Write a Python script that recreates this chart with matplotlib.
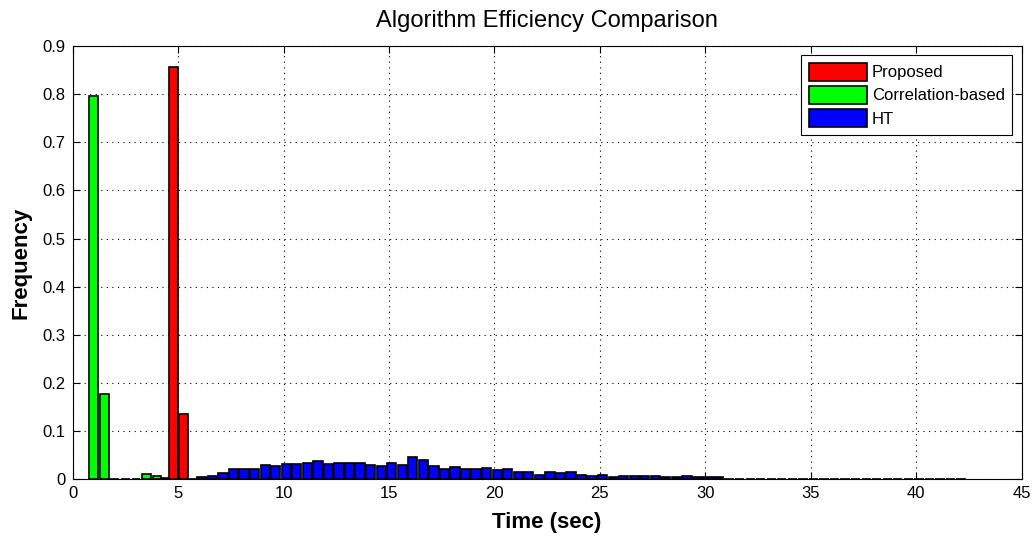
import numpy as np
import matplotlib
matplotlib.use("Agg")
import matplotlib.pyplot as plt

plt.rcParams['font.family'] = ['Liberation Sans', 'DejaVu Sans']

# --- data
prop_x = [4.33, 4.80, 5.27, 5.74]
prop_y = [0.003, 0.856, 0.136, 0.0015]

corr_x = [1.0, 1.5, 2.0, 2.5, 3.0, 3.5, 4.0]
corr_y = [0.797, 0.178, 0.0015, 0.0, 0.0015, 0.011, 0.0077]

# HT histogram, bin centres 6.13 ... 42.13, step 0.5
ht_x = np.arange(6.13, 42.2, 0.5)
ht_y = [0.004, 0.007, 0.013, 0.021, 0.021, 0.021, 0.029, 0.027, 0.032, 0.032,
        0.035, 0.039, 0.032, 0.035, 0.035, 0.033, 0.030, 0.028, 0.033, 0.030,
        0.047, 0.041, 0.027, 0.021, 0.025, 0.021, 0.021, 0.024, 0.019, 0.021,
        0.016, 0.016, 0.010, 0.016, 0.013, 0.016, 0.010, 0.007, 0.010, 0.005,
        0.006, 0.006, 0.006, 0.007, 0.004, 0.004, 0.008, 0.005, 0.005, 0.005,
        0.0015, 0.0015, 0.0015, 0.0015, 0.0015, 0.0015, 0.0015, 0.0015,
        0.0,
        0.0015, 0.0015, 0.0015, 0.0015, 0.0015,
        0.0, 0.0,
        0.0015, 0.0015,
        0.0,
        0.0015,
        0.0, 0.0,
        0.0015]

labels = ["Proposed", "Correlation-based", "HT"]

fig = plt.figure(figsize=(10.34, 5.38), dpi=100)
ax = fig.add_axes([0.0703, 0.109, 0.9177, 0.8055])

ax.bar(prop_x, prop_y, width=0.42, color="#ff0000", edgecolor="black", linewidth=1.2, label=labels[0], zorder=3)
ax.bar(corr_x, corr_y, width=0.42, color="#00ff00", edgecolor="black", linewidth=1.2, label=labels[1], zorder=3)
ax.bar(ht_x, ht_y, width=0.44, color="#0000ff", edgecolor="black", linewidth=1.2, label=labels[2], zorder=3)

ax.set_xlim(0, 45)
ax.set_ylim(0, 0.9)
ax.set_xticks(np.arange(0, 46, 5))
ax.set_yticks(np.arange(0, 0.91, 0.1))
ax.set_yticklabels(["0", "0.1", "0.2", "0.3", "0.4", "0.5", "0.6", "0.7", "0.8", "0.9"])
ax.tick_params(direction="in", top=True, right=True, length=5, labelsize=12, colors="black", pad=5)
ax.grid(True, linestyle=(0, (1, 4)), color="black", linewidth=0.8, zorder=0)
for s in ax.spines.values():
    s.set_color("black")
    s.set_linewidth(0.8)

ax.set_title("Algorithm Efficiency Comparison", fontsize=17, pad=14)
ax.set_xlabel("Time (sec)", fontsize=16, fontweight="bold", labelpad=8)
ax.set_ylabel("Frequency", fontsize=16, fontweight="bold", labelpad=8)

leg = ax.legend(loc="upper right", fontsize=12, handlelength=3.5, handleheight=1.3,
                fancybox=False, framealpha=1, edgecolor="black", borderaxespad=0.55,
                labelspacing=0.3, handletextpad=0.3, borderpad=0.45)
leg.get_frame().set_linewidth(0.8)

fig.savefig("out.png", dpi=100)
